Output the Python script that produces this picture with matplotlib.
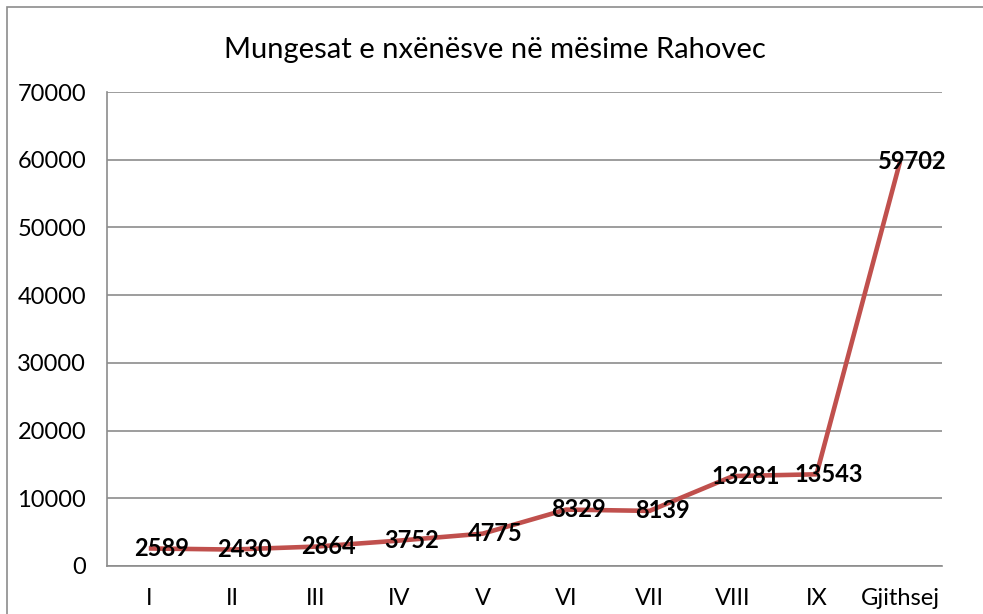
import matplotlib.pyplot as plt
from matplotlib.patches import Rectangle

# dades
klasat = ['I', 'II', 'III', 'IV', 'V', 'VI', 'VII', 'VIII', 'IX', 'Gjithsej']
mungesat = [2589, 2430, 2864, 3752, 4775, 8329, 8139, 13281, 13543, 59702]
y_ticks = [0, 10000, 20000, 30000, 40000, 50000, 60000, 70000]

plt.rcParams['font.family'] = ['Lato', 'DejaVu Sans']

fig = plt.figure(figsize=(9.83, 6.14), dpi=100)
ax = fig.add_axes([0.1089, 0.0782, 0.8491, 0.7718])

# kornizë rreth grafikut
fig.patches.append(Rectangle((7 / 983, -0.1), 1.2, (614 - 7) / 614 + 0.1,
                             transform=fig.transFigure, fill=False,
                             edgecolor='#8c8c8c', linewidth=1.2))

x = list(range(len(klasat)))
ax.plot(x, mungesat, color='#C0504D', linewidth=3.3, solid_capstyle='butt', zorder=3)

for xi, v in zip(x, mungesat):
    ax.annotate(str(v), (xi, v), xytext=(9, 0), textcoords='offset points',
                ha='center', va='center', fontsize=17, fontweight='bold',
                color='black', zorder=4)

ax.set_xlim(-0.5, len(klasat) - 0.5)
ax.set_ylim(0, 70000)
ax.set_yticks(y_ticks)
ax.set_yticklabels([str(t) for t in y_ticks])
ax.set_xticks(x)
ax.set_xticklabels(klasat)
ax.tick_params(axis='both', length=0, labelsize=17, colors='black')
ax.tick_params(axis='y', pad=15)
ax.tick_params(axis='x', pad=16)

ax.grid(axis='y', color='#8c8c8c', linewidth=1.2)
ax.set_axisbelow(True)
for s in ['top', 'right']:
    ax.spines[s].set_visible(False)
for s in ['left', 'bottom']:
    ax.spines[s].set_color('#8c8c8c')
    ax.spines[s].set_linewidth(1.2)

fig.text(0.503, 0.918, 'Mungesat e nxënësve në mësime Rahovec', ha='center',
         va='center', fontsize=21)

fig.savefig('out.png', dpi=100)
